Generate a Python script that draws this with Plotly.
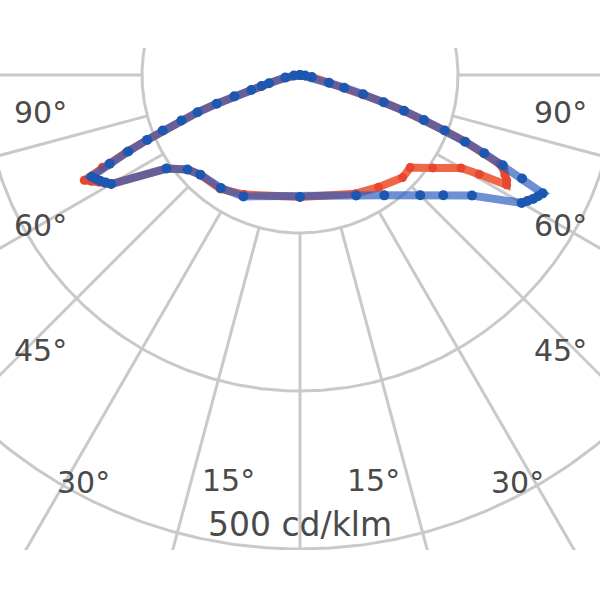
import numpy as np
import plotly.graph_objects as go

# ---------------- data ----------------
# gamma angles (deg from the nadir) used for both half-planes
GAMMA = [0, 25, 35, 45, 50, 55, 60, 61, 62, 63, 64,
         65, 66, 67, 68, 69, 70, 71, 72, 73, 74, 75, 80, 85, 90]

# luminous intensity, cd/klm
blue_left = [77.2, 84.8, 87.3, 89.2, 93.0, 103.2,
             138.0, 140.5, 143.0, 144.9, 146.8, 132.9, 119.0, 105.1, 93.7, 80.4,
             69.0, 55.7, 43.7, 32.3, 25.3, 20.3, 9.5, 3.8, 0.0]
blue_right = [77.2, 84.2, 93.0, 107.6, 118.4, 132.9,
              162.0, 164.6, 167.1, 169.0, 170.9, 155.1, 140.5, 126.6, 112.7, 98.1,
              83.5, 69.6, 55.7, 41.8, 29.1, 19.0, 7.6, 3.2, 0.0]
red_left = [77.2, 83.5, 88.0, 89.2, 93.0, 103.2,
            138.0, 141.1, 144.3, 148.1, 151.9, 138.0, 120.3, 105.1, 93.7, 80.4,
            69.0, 55.7, 43.7, 32.3, 25.3, 20.3, 9.5, 3.8, 0.0]
red_right = [77.2, 82.9, 86.7, 91.8, 91.1, 102.5,
             117.7, 129.7, 148.1, 146.8, 144.3, 142.4, 138.0, 126.6, 112.7, 98.1,
             83.5, 69.6, 55.7, 41.8, 29.1, 19.0, 7.6, 3.2, 0.0]

GRID_RINGS = [100, 200, 300]
GRID_SPOKES = list(range(-90, 91, 15))
SPOKE_START, SPOKE_END = 100, 420

LABELS_LEFT = ["90°", "60°", "45°", "30°", "15°"]
LABELS_RIGHT = ["15°", "30°", "45°", "60°", "90°"]
UNIT_LABEL = "500 cd/klm"

# ---------------- geometry / style ----------------
W = H = 600
CX, CY = 300, 75          # pole position in pixels
PX_PER_UNIT = 1.58        # pixels per cd/klm
TOP, BOTTOM = 48, 550     # visible plotting band

GRID_COLOR = "#c9c9c9"
RED_LINE = "rgb(238,104,72)"
RED_MARK = "rgb(230,70,50)"
BLUE_LINE = "rgba(40,90,190,0.68)"
BLUE_MARK = "rgb(28,88,178)"
TEXT_COLOR = "#4a4a4a"
FONT = "DejaVu Sans, Verdana, sans-serif"
FONT_SIZE = 30
UNIT_FONT_SIZE = 33

LEFT_POS = [(40, 112), (40, 225), (40, 350), (83, 482), (228, 480)]
RIGHT_POS = [(373, 480), (517, 482), (560, 350), (560, 225), (560, 112)]
UNIT_POS = (300, 524)


def to_xy(gamma_deg, r):
    g = np.radians(np.asarray(gamma_deg, float))
    r = np.asarray(r, float)
    return r * np.sin(g), -r * np.cos(g)


def px_to_data(px, py):
    return (px - CX) / PX_PER_UNIT, -(py - CY) / PX_PER_UNIT


def full_curve(left, right):
    g = [-a for a in reversed(GAMMA)] + GAMMA[1:]
    r = list(reversed(left)) + list(right[1:])
    return to_xy(g, r)


fig = go.Figure()

# grid rings
t = np.linspace(0, 360, 721)
for ring in GRID_RINGS:
    x, y = to_xy(t, np.full_like(t, ring))
    fig.add_trace(go.Scatter(x=x, y=y, mode="lines",
                             line=dict(color=GRID_COLOR, width=3),
                             hoverinfo="skip", showlegend=False))
# spokes (start at the first ring)
for a in GRID_SPOKES:
    x, y = to_xy([a, a], [SPOKE_START, SPOKE_END])
    fig.add_trace(go.Scatter(x=x, y=y, mode="lines",
                             line=dict(color=GRID_COLOR, width=3),
                             hoverinfo="skip", showlegend=False))

# curves
rx, ry = full_curve(red_left, red_right)
fig.add_trace(go.Scatter(x=rx, y=ry, mode="lines+markers", name="C0-C180",
                         line=dict(color=RED_LINE, width=8),
                         marker=dict(color=RED_MARK, size=9),
                         showlegend=False))
bx, by = full_curve(blue_left, blue_right)
fig.add_trace(go.Scatter(x=bx, y=by, mode="lines+markers", name="C90-C270",
                         line=dict(color=BLUE_LINE, width=8),
                         marker=dict(color=BLUE_MARK, size=10),
                         showlegend=False))

annotations = []
for txt, (px, py) in list(zip(LABELS_LEFT, LEFT_POS)) + list(zip(LABELS_RIGHT, RIGHT_POS)):
    ax, ay = px_to_data(px, py)
    annotations.append(dict(x=ax, y=ay, xref="x", yref="y", text=txt, showarrow=False,
                            xanchor="center", yanchor="middle",
                            font=dict(family=FONT, size=FONT_SIZE, color=TEXT_COLOR)))
ux, uy = px_to_data(*UNIT_POS)
annotations.append(dict(x=ux, y=uy, xref="x", yref="y", text=UNIT_LABEL, showarrow=False,
                        xanchor="center", yanchor="middle",
                        font=dict(family=FONT, size=UNIT_FONT_SIZE, color=TEXT_COLOR)))

x0, _ = px_to_data(0, CY)
x1, _ = px_to_data(W, CY)
_, y_top = px_to_data(CX, TOP)
_, y_bot = px_to_data(CX, BOTTOM)

fig.update_layout(
    width=W, height=H, autosize=False,
    margin=dict(l=0, r=0, t=TOP, b=H - BOTTOM, pad=0),
    paper_bgcolor="white", plot_bgcolor="white",
    xaxis=dict(range=[x0, x1], visible=False, fixedrange=True),
    yaxis=dict(range=[y_bot, y_top], visible=False, fixedrange=True),
    annotations=annotations,
    showlegend=False,
)

fig.write_html("out.html",
               config={"displayModeBar": False, "staticPlot": True},
               post_script="document.body.style.margin='0px';"
                           "document.body.style.padding='0px';")
